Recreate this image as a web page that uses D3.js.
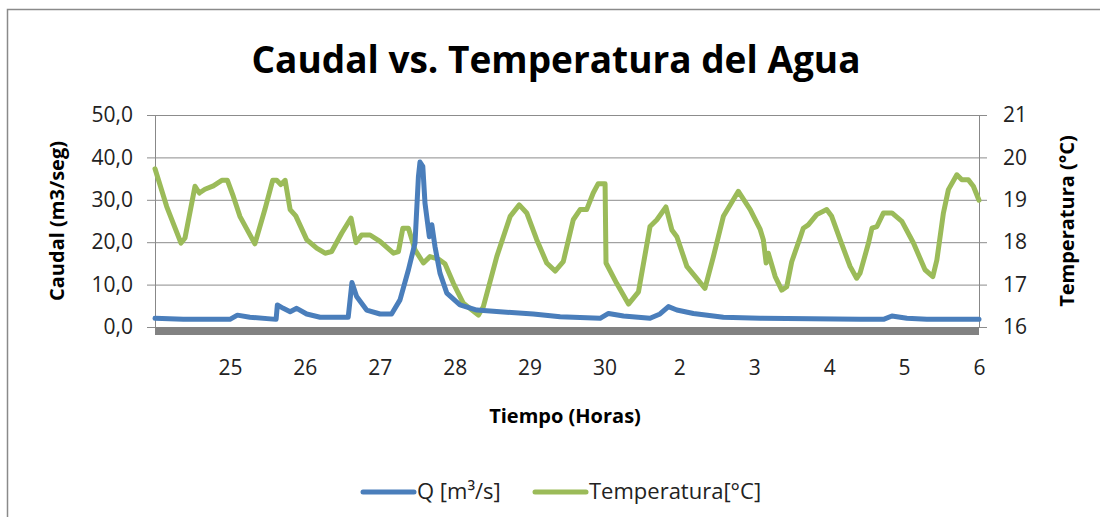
<!DOCTYPE html>
<html>
<head>
<meta charset="utf-8">
<script src="https://cdn.jsdelivr.net/npm/d3@7"></script>
<style>
  body { margin: 0; background: #fff; }
  svg { display: block; font-family: 'Open Sans', sans-serif; }
</style>
</head>
<body>
<div id="chart"></div>
<script>
// time in hours from the start of the record
var qHours = [0, 9.1, 24, 26.4, 30.4, 38.8, 39.2, 41.1, 43.3, 45.4, 48.6, 52.9, 61.9, 63.1, 64.6,
  67.8, 72.1, 75.8, 78.5, 81.2, 83.3, 84.4, 84.9, 85.8, 86.5, 87.9, 88.7, 89.7, 91.3, 93.5,
  97.7, 103.1, 110.5, 121.2, 129.8, 142.6, 145.3, 150.1, 158.6, 161.8, 164.5, 167.2, 172.5,
  182.1, 193.9, 225.9, 233.4, 236.1, 240.9, 247.3, 264]
var qValues = [2.05, 1.8, 1.8, 2.8, 2.3, 1.8, 5.2, 4.4, 3.6, 4.4, 3.07, 2.3, 2.3, 10.5, 7.2,
  4.0, 3.07, 3.07, 6.4, 13.5, 19.8, 35.5, 38.9, 37.9, 29.2, 21.3, 24.1, 19.0, 12.7, 8.0,
  5.2, 4.0, 3.6, 3.07, 2.4, 2.05, 3.2, 2.6, 2.05, 3.07, 4.8, 4.0, 3.2,
  2.3, 2.05, 1.8, 1.8, 2.6, 2.05, 1.8, 1.8]

var tHours = [0, 3.75, 8.33, 9.61, 12.82, 14.2, 16.0, 18.7, 21.4, 23.2, 25.1, 27.2, 32.0, 35.2,
  37.7, 39.0, 40.3, 41.7, 43.3, 45.1, 48.6, 51.8, 54.5, 56.6, 59.8, 62.8, 64.4, 66.2, 68.9,
  72.1, 76.4, 78.0, 79.4, 81.2, 83.3, 86.0, 88.1, 90.8, 92.9, 95.6, 98.8, 103.6, 105.2,
  109.5, 113.8, 116.7, 119.1, 122.3, 125.5, 128.2, 130.8, 134.0, 136.2, 138.3, 140.4, 142.0,
  144.2, 144.5, 147.9, 151.7, 154.9, 158.6, 160.8, 163.7, 165.6, 167.2, 170.4, 176.2, 178.9,
  182.1, 186.9, 190.7, 193.9, 194.9, 195.8, 196.5, 198.7, 200.8, 202.4, 204.0, 206.8, 207.7,
  209.3, 212.0, 215.2, 216.8, 219.5, 222.7, 224.8, 225.9, 228.6, 229.7, 231.3, 233.4, 236.1,
  239.3, 243.0, 246.7, 249.2, 250.5, 252.6, 254.2, 256.9, 258.5, 260.6, 262.2, 264]
var tValues = [19.73, 18.84, 17.98, 18.10, 19.32, 19.16, 19.25, 19.33, 19.46, 19.46, 19.08, 18.61, 17.96, 18.77,
  19.46, 19.46, 19.36, 19.46, 18.77, 18.62, 18.06, 17.86, 17.74, 17.78, 18.21, 18.57, 17.99, 18.17, 18.17,
  18.02, 17.74, 17.78, 18.33, 18.33, 17.82, 17.51, 17.66, 17.60, 17.49, 17.03, 16.56, 16.28, 16.48,
  17.66, 18.61, 18.88, 18.69, 18.06, 17.51, 17.32, 17.54, 18.53, 18.77, 18.77, 19.16, 19.38,
  19.38, 17.51, 17.03, 16.54, 16.83, 18.37, 18.53, 18.83, 18.29, 18.13, 17.43, 16.91, 17.66,
  18.61, 19.20, 18.77, 18.30, 18.06, 17.51, 17.74, 17.19, 16.87, 16.95, 17.54, 18.13, 18.33,
  18.41, 18.65, 18.77, 18.61, 18.06, 17.43, 17.15, 17.27, 17.98, 18.33, 18.37, 18.69, 18.69,
  18.49, 17.98, 17.35, 17.19, 17.58, 18.69, 19.24, 19.59, 19.47, 19.47, 19.32, 18.99]

var dayTicks = [24, 48, 72, 96, 120, 144, 168, 192, 216, 240, 264]
var dayLabels = ['25', '26', '27', '28', '29', '30', '2', '3', '4', '5', '6']
var qTicks = [0, 10, 20, 30, 40, 50]
var tTicks = [16, 17, 18, 19, 20, 21]

var seriesNames = ['Q [m\u00b3/s]', 'Temperatura[\u00b0C]']
var seriesColors = ['#4a7ebb', '#9bbb59']

var width = 1100, height = 517
var plot = { left: 155, right: 979, top: 115, bottom: 327 }

var svg = d3.select('#chart')
  .append('svg')
  .attr('width', width)
  .attr('height', height)

// chart border (only left and top are inside the picture)
svg.append('path')
  .attr('d', 'M7.5,' + height + ' V9.5 H' + width)
  .attr('fill', 'none')
  .attr('stroke', '#8a8a8a')
  .attr('stroke-width', 1.5)

var x = d3.scaleLinear().domain([0, 264]).range([plot.left, plot.right])
var yQ = d3.scaleLinear().domain([0, 50]).range([plot.bottom, plot.top])
var yT = d3.scaleLinear().domain([16, 21]).range([plot.bottom, plot.top])

// gridlines + left ticks
var leftAxis = svg.append('g')
  .attr('transform', 'translate(' + plot.left + ',0)')
  .call(d3.axisLeft(yQ)
    .tickValues(qTicks)
    .tickSize(8)
    .tickPadding(14)
    .tickFormat(function (d) { return d.toFixed(1).replace('.', ',') }))
leftAxis.select('.domain').attr('stroke', '#888').attr('d', 'M0.5,' + plot.top + 'V' + plot.bottom)
leftAxis.selectAll('.tick line').attr('stroke', '#8c8c8c')
leftAxis.selectAll('.tick')
  .append('line')
  .attr('x1', 0)
  .attr('x2', plot.right - plot.left)
  .attr('stroke', '#8c8c8c')
leftAxis.selectAll('.tick text')
  .attr('font-family', 'Open Sans')
  .attr('font-size', 21)
  .attr('fill', '#222')

var rightAxis = svg.append('g')
  .attr('transform', 'translate(' + plot.right + ',0)')
  .call(d3.axisRight(yT)
    .tickValues(tTicks)
    .tickSize(8)
    .tickPadding(16)
    .tickFormat(function (d) { return String(d) }))
rightAxis.select('.domain').attr('stroke', '#888').attr('d', 'M0.5,' + plot.top + 'V' + plot.bottom)
rightAxis.selectAll('.tick line').attr('stroke', '#8c8c8c')
rightAxis.selectAll('.tick text')
  .attr('font-family', 'Open Sans')
  .attr('font-size', 21)
  .attr('fill', '#222')

// floor bar under the plot
svg.append('rect')
  .attr('x', plot.left)
  .attr('y', plot.bottom)
  .attr('width', plot.right - plot.left)
  .attr('height', 8)
  .attr('fill', '#828282')

var bottomAxis = svg.append('g')
  .attr('transform', 'translate(0,' + (plot.bottom + 8) + ')')
  .call(d3.axisBottom(x)
    .tickValues(dayTicks)
    .tickSize(0)
    .tickPadding(25)
    .tickFormat(function (d, i) { return dayLabels[i] }))
bottomAxis.select('.domain').remove()
bottomAxis.selectAll('.tick text')
  .attr('font-family', 'Open Sans')
  .attr('font-size', 21)
  .attr('fill', '#222')

// series
var tLine = d3.line()
  .x(function (d, i) { return x(tHours[i]) })
  .y(function (d) { return yT(d) })
var qLine = d3.line()
  .x(function (d, i) { return x(qHours[i]) })
  .y(function (d) { return yQ(d) })

svg.append('path')
  .attr('d', tLine(tValues))
  .attr('fill', 'none')
  .attr('stroke', seriesColors[1])
  .attr('stroke-width', 5)
  .attr('stroke-linejoin', 'round')
  .attr('stroke-linecap', 'round')
svg.append('path')
  .attr('d', qLine(qValues))
  .attr('fill', 'none')
  .attr('stroke', seriesColors[0])
  .attr('stroke-width', 5)
  .attr('stroke-linejoin', 'round')
  .attr('stroke-linecap', 'round')

// titles
svg.append('text')
  .attr('x', 556)
  .attr('y', 73)
  .attr('text-anchor', 'middle')
  .attr('font-size', 37)
  .attr('font-weight', 'bold')
  .attr('fill', '#000')
  .text('Caudal vs. Temperatura del Agua')

svg.append('text')
  .attr('x', 565)
  .attr('y', 423)
  .attr('text-anchor', 'middle')
  .attr('font-size', 20)
  .attr('font-weight', 'bold')
  .text('Tiempo (Horas)')

svg.append('text')
  .attr('transform', 'translate(64,221) rotate(-90)')
  .attr('text-anchor', 'middle')
  .attr('font-size', 20)
  .attr('font-weight', 'bold')
  .text('Caudal (m3/seg)')

svg.append('text')
  .attr('transform', 'translate(1074,221) rotate(-90)')
  .attr('text-anchor', 'middle')
  .attr('font-size', 20)
  .attr('font-weight', 'bold')
  .text('Temperatura (\u00b0C)')

// legend
var legendX = [363, 535]
var legend = svg.selectAll('.legend')
  .data(seriesNames)
  .enter()
  .append('g')
  .attr('class', 'legend')
  .attr('transform', function (d, i) { return 'translate(' + legendX[i] + ',492)' })
legend.append('line')
  .attr('x1', 0)
  .attr('x2', 51)
  .attr('stroke', function (d, i) { return seriesColors[i] })
  .attr('stroke-width', 5)
  .attr('stroke-linecap', 'round')
legend.append('text')
  .attr('x', 54)
  .attr('y', 7)
  .attr('font-size', 22)
  .attr('fill', '#222')
  .text(function (d) { return d })
</script>
</body>
</html>
